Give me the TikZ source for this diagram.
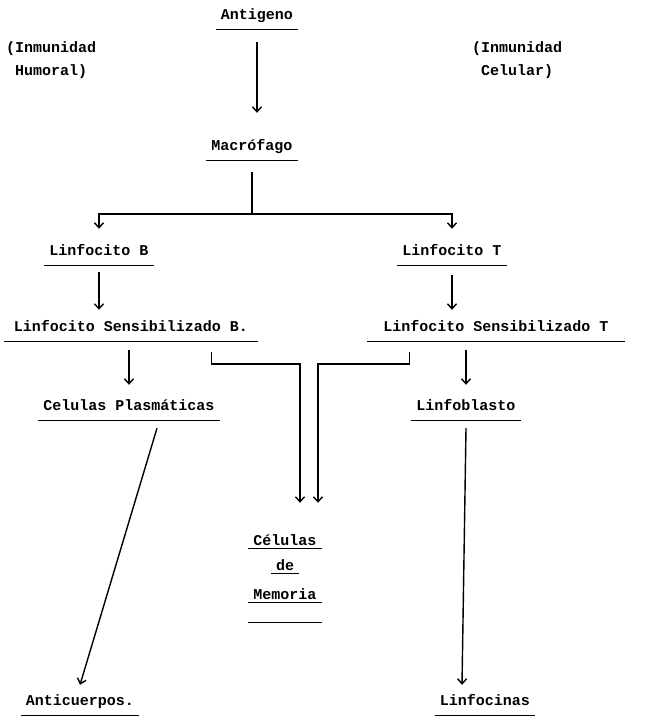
\documentclass[tikz,border=0pt]{standalone}
\usepackage{fontspec}
\usepackage{tikz}
\usetikzlibrary{arrows.meta}
\usetikzlibrary{positioning}
\newfontfamily\typewriter{Liberation Mono}
\newcommand{\twfont}{\typewriter\bfseries\fontsize{15pt}{23pt}\selectfont}

\begin{document}
\begin{tikzpicture}[x=1pt, y=1pt,
    lbl/.style={font=\twfont, text height=11pt, text depth=3pt, inner xsep=5pt, inner ysep=6pt,
      append after command={(\tikzlastnode.south west) edge[line width=1.3pt] (\tikzlastnode.south east)}},
    mem/.style={lbl, inner ysep=1pt, text depth=1pt},
    side/.style={font=\twfont, align=left, inner sep=0pt, anchor=north west},
    arr/.style={-{Straight Barb[length=5pt, width=9pt]}, line width=1.4pt}]
			\useasboundingbox (0,0) rectangle (653,720);
			\node[lbl] (Antigeno) at (257,704) {Antigeno};
			\node[side] (Humoral) at (6,679) {(Inmunidad\\\phantom{(}Humoral)};
			\node[side] (Celular) at (472,679) {(Inmunidad\\\phantom{(}Celular)};
			\node[lbl] (Macro) at (252,573) {Macrófago};
			\node[lbl] (LinfB) at (99,468) {Linfocito B};
			\node[lbl] (LinfT) at (452,468) {Linfocito T};
			\node[lbl, minimum width=253pt] (SensB) at (131,392) {Linfocito Sensibilizado B.};
			\node[lbl, minimum width=257pt] (SensT) at (496,392) {Linfocito Sensibilizado T};
			\node[lbl] (Plasma) at (129,313) {Celulas Plasmáticas};
			\node[lbl] (Blasto) at (466,313) {Linfoblasto};
			\node[mem] (Cel) at (285,179) {Células};
			\node[mem] (De) at (285,154) {de};
			\node[mem] (Memoria) at (285,125) {Memoria};
			\node[lbl] (Anti) at (80,18) {Anticuerpos.};
			\node[lbl] (Linfocinas) at (485,18) {Linfocinas};
			\draw[line width=1.3pt] ([yshift=-20pt]Memoria.south west) -- ([yshift=-20pt]Memoria.south east);
			\draw[arr] ([yshift=-13pt]Antigeno.south) -- ([yshift=21pt]Antigeno.south |- Macro.north);
			\draw[line width=1.4pt] ([yshift=-12pt]Macro.south) -- ++(0,-42) coordinate (split);
			\draw[arr] (split) -| ([yshift=10pt]LinfB.north);
			\draw[arr] (split) -| ([yshift=10pt]LinfT.north);
			\draw[arr] ([yshift=-7pt]LinfB.south) -- ([yshift=5pt]LinfB.south |- SensB.north);
			\draw[arr] ([yshift=-10pt]LinfT.south) -- ([yshift=5pt]LinfT.south |- SensT.north);
			\draw[arr] ([yshift=-9pt]Plasma.north |- SensB.south) -- ([yshift=9pt]Plasma.north);
			\draw[arr] ([yshift=-9pt]Blasto.north |- SensT.south) -- ([yshift=9pt]Blasto.north);
			\draw[arr] ([xshift=-46pt,yshift=-11pt]SensB.south east) -- ++(0,-12) -| ([xshift=15pt,yshift=31pt]Cel.north);
			\draw[arr] ([xshift=42pt,yshift=-11pt]SensT.south west) -- ++(0,-12) -| ([xshift=33pt,yshift=31pt]Cel.north);
			\draw[arr] ([xshift=28pt,yshift=-8pt]Plasma.south) -- ([yshift=4pt]Anti.north);
			\draw[arr] ([yshift=-8pt]Blasto.south) -- ([xshift=-23pt,yshift=4pt]Linfocinas.north);
		\end{tikzpicture}
\end{document}
